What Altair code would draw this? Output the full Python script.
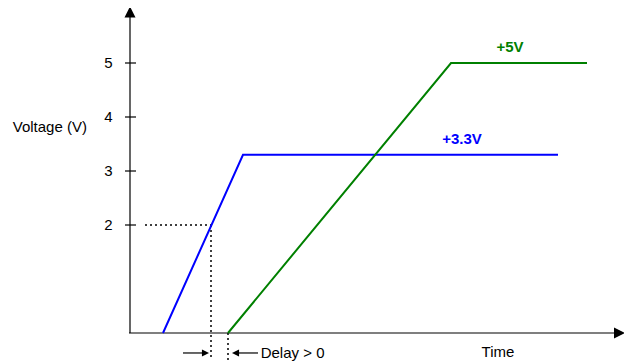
import altair as alt
import pandas as pd

# ---- data (time in arbitrary units, voltage in V) ----
blue_time = [3.3, 11.3, 42.8]
blue_volt = [0.0, 3.3, 3.3]
green_time = [9.8, 32.1, 45.7]
green_volt = [0.0, 5.0, 5.0]
series_names = ["+3.3V", "+5V"]
series_colors = ["#0000FF", "#008000"]
tick_values = [2, 3, 4, 5]
label_time = [33.2, 38.0]
label_volt = [3.59, 5.29]
threshold_volt = 2.0
threshold_time = 8.1   # where +3.3V crosses 2 V
green_start = 9.8      # where +5V starts rising

# ---- layout ----
W, H = 616, 354
XDOM = [-12.2, 49.4]
YDOM = [-0.537, 6.0185]
FONT = "Liberation Sans"
FS = 15

xs = alt.Scale(domain=XDOM, nice=False, zero=False)
ys = alt.Scale(domain=YDOM, nice=False, zero=False)
color_scale = alt.Scale(domain=series_names, range=series_colors)

def X(f="x"):
    return alt.X(f"{f}:Q", scale=xs, axis=None)

def Y(f="y"):
    return alt.Y(f"{f}:Q", scale=ys, axis=None)

# signal lines
lines_df = pd.DataFrame({
    "x": blue_time + green_time,
    "y": blue_volt + green_volt,
    "series": [series_names[0]] * len(blue_time) + [series_names[1]] * len(green_time),
    "order": list(range(len(blue_time))) + list(range(len(green_time))),
})
lines = alt.Chart(lines_df).mark_line(strokeWidth=2).encode(
    x=X(), y=Y(),
    color=alt.Color("series:N", scale=color_scale, legend=None),
    detail="series:N",
    order="order:Q",
)

# axes, ticks and arrow shafts
x_end, y_end = 48.4, 5.85
delay_y = -0.37
rules_df = pd.DataFrame(
    [(-0.1, x_end, 0, 0), (0, 0, 0, y_end)]
    + [(-0.5, 0.6, v, v) for v in tick_values]
    + [(5.3, 7.4, delay_y, delay_y), (10.6, 12.8, delay_y, delay_y)],
    columns=["x", "x2", "y", "y2"],
)
rules = alt.Chart(rules_df).mark_rule(color="black", strokeWidth=1.2).encode(
    x=X(), x2="x2:Q", y=Y(), y2="y2:Q"
)

# dotted guide lines
dots_df = pd.DataFrame(
    [(1.5, threshold_time, threshold_volt, threshold_volt),
     (threshold_time, threshold_time, threshold_volt, -0.5),
     (green_start, green_start, 0, -0.5)],
    columns=["x", "x2", "y", "y2"],
)
dots = alt.Chart(dots_df).mark_rule(color="black", strokeWidth=1.5, strokeDash=[2, 3]).encode(
    x=X(), x2="x2:Q", y=Y(), y2="y2:Q"
)

# arrow heads
up_df = pd.DataFrame({"x": [0], "y": [5.944]})
up = alt.Chart(up_df).mark_point(shape="M0,-1L1,1L-1,1Z", filled=True, opacity=1,
                                  color="black", size=121, strokeWidth=0).encode(x=X(), y=Y())
right_df = pd.DataFrame({"x": [48.95], "y": [0]})
right = alt.Chart(right_df).mark_point(shape="M-1,-1L1,0L-1,1Z", filled=True, opacity=1,
                                        color="black", size=121, strokeWidth=0).encode(x=X(), y=Y())
dr_df = pd.DataFrame({"x": [7.55], "y": [delay_y]})
dr = alt.Chart(dr_df).mark_point(shape="M-1,-1L1,0L-1,1Z", filled=True, opacity=1,
                                  color="black", size=50, strokeWidth=0).encode(x=X(), y=Y())
dl_df = pd.DataFrame({"x": [10.55], "y": [delay_y]})
dl = alt.Chart(dl_df).mark_point(shape="M1,-1L-1,0L1,1Z", filled=True, opacity=1,
                                  color="black", size=50, strokeWidth=0).encode(x=X(), y=Y())

# tick labels
tl_df = pd.DataFrame({"x": [-1.75] * len(tick_values), "y": tick_values,
                      "t": [str(v) for v in tick_values]})
tick_labels = alt.Chart(tl_df).mark_text(align="right", baseline="middle", font=FONT,
                                         fontSize=FS, color="black").encode(x=X(), y=Y(), text="t:N")

# plain annotations
ann_df = pd.DataFrame({
    "x": [-11.73, 36.8, 13.07],
    "y": [3.815, -0.346, -0.365],
    "t": ["Voltage (V)", "Time", "Delay > 0"],
    "a": ["left", "center", "left"],
})
ann_left = alt.Chart(ann_df[ann_df.a == "left"]).mark_text(
    align="left", baseline="middle", font=FONT, fontSize=FS, color="black"
).encode(x=X(), y=Y(), text="t:N")
ann_center = alt.Chart(ann_df[ann_df.a == "center"]).mark_text(
    align="center", baseline="middle", font=FONT, fontSize=FS, color="black"
).encode(x=X(), y=Y(), text="t:N")

# series labels
sl_df = pd.DataFrame({"x": label_time, "y": label_volt, "series": series_names})
series_labels = alt.Chart(sl_df).mark_text(
    align="center", baseline="middle", font=FONT, fontSize=FS, fontWeight="bold"
).encode(x=X(), y=Y(), text="series:N",
         color=alt.Color("series:N", scale=color_scale, legend=None))

chart = alt.layer(
    dots, rules, lines, up, right, dr, dl, tick_labels, ann_left, ann_center, series_labels
).properties(
    width=W, height=H, padding=0, autosize=alt.AutoSizeParams(type="none")
).configure_view(stroke=None)

chart.save("out.html", embed_options={"renderer": "svg", "actions": False})
